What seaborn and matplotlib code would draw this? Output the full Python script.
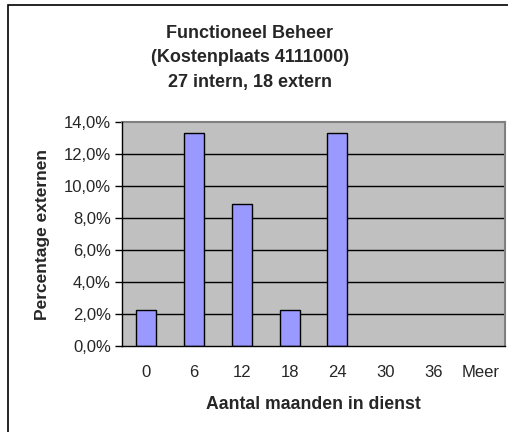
import matplotlib
matplotlib.use("Agg")
import matplotlib.pyplot as plt
import seaborn as sns
import pandas as pd
from matplotlib.patches import Rectangle
from matplotlib.ticker import FuncFormatter, FixedLocator

categories = ["0", "6", "12", "18", "24", "30", "36", "Meer"]
percentages = [2.22, 13.33, 8.89, 2.22, 13.33, 0.0, 0.0, 0.0]
title_lines = ["Functioneel Beheer", "(Kostenplaats 4111000)", "27 intern, 18 extern"]
y_ticks = [0, 2, 4, 6, 8, 10, 12, 14]

sns.set_style("white")
plt.rcParams['font.family'] = ['Liberation Sans', 'DejaVu Sans']

W, H = 508, 432
fig = plt.figure(figsize=(W / 100, H / 100), dpi=100)
fig.patch.set_facecolor("white")

# outer chart frame (cut off on right and bottom)
fig.patches.append(Rectangle((8 / W, -0.1), 1.2, 1 - 5 / H + 0.1, transform=fig.transFigure,
                             fill=False, edgecolor="black", linewidth=1.2, zorder=0))

left, right, top, bottom = 122, 505, 122, 346
ax = fig.add_axes([left / W, 1 - bottom / H, (right - left) / W, (bottom - top) / H])
ax.set_facecolor("#C0C0C0")

df = pd.DataFrame({"cat": categories, "pct": percentages})
sns.barplot(data=df, x="cat", y="pct", ax=ax, color="#9999FF", edgecolor="black",
            linewidth=1.0, width=0.42, saturation=1, zorder=3)
for patch in ax.patches:
    if patch.get_height() == 0:
        patch.set_visible(False)

ax.set_xlim(-0.5, len(categories) - 0.5)
ax.set_ylim(0, 14)
ax.yaxis.set_major_locator(FixedLocator(y_ticks))
ax.yaxis.set_major_formatter(FuncFormatter(lambda v, p: f"{v:.1f}%".replace(".", ",")))
for t in y_ticks[1:-1]:
    ax.axhline(t, color="black", linewidth=1.0, zorder=1)

ax.xaxis.set_minor_locator(FixedLocator([i - 0.5 for i in range(len(categories) + 1)]))
ax.tick_params(axis="x", which="major", length=0, pad=14, labelsize=12)
ax.tick_params(axis="x", which="minor", length=10, direction="inout", width=1, color="black")
ax.tick_params(axis="y", which="major", length=5, direction="out", width=1, color="black",
               pad=3, labelsize=12, left=True)

for side in ["top", "right"]:
    ax.spines[side].set_color("#808080")
    ax.spines[side].set_linewidth(1.5)
for side in ["left", "bottom"]:
    ax.spines[side].set_color("black")
    ax.spines[side].set_linewidth(1.0)
    ax.spines[side].set_zorder(4)

ax.set_xlabel("Aantal maanden in dienst", fontsize=12.7, fontweight="bold", labelpad=11)
ax.set_ylabel("Percentage externen", fontsize=12.5, fontweight="bold", labelpad=10)

for i, line in enumerate(title_lines):
    fig.text(250 / W, 1 - (33 + 24.5 * i) / H, line, ha="center", va="center",
             fontsize=13, fontweight="bold")

fig.savefig("out.png", dpi=100)
